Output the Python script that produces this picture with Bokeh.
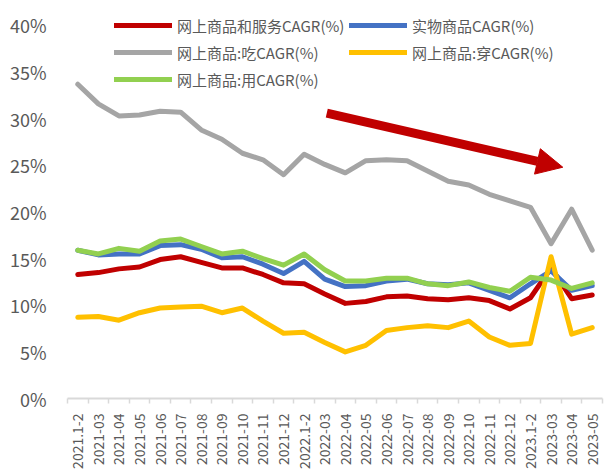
from math import pi
from bokeh.plotting import figure
from bokeh.models import (Range1d, FixedTicker, PrintfTickFormatter, Legend,
                          LegendItem, Arrow, NormalHead)
from bokeh.embed import file_html
from bokeh.resources import INLINE

categories = ["2021.1-2", "2021-03", "2021-04", "2021-05", "2021-06", "2021-07",
              "2021-08", "2021-09", "2021-10", "2021-11", "2021-12",
              "2022.1-2", "2022-03", "2022-04", "2022-05", "2022-06", "2022-07",
              "2022-08", "2022-09", "2022-10", "2022-11", "2022-12",
              "2023.1-2", "2023-03", "2023-04", "2023-05"]

online_goods_services = [13.3, 13.5, 13.9, 14.1, 14.9, 15.2, 14.6, 14.0, 14.0, 13.3,
                         12.4, 12.3, 11.2, 10.2, 10.4, 10.9, 11.0, 10.7, 10.6, 10.8,
                         10.5, 9.6, 10.8, 14.0, 10.7, 11.1]
physical_goods = [15.9, 15.4, 15.5, 15.5, 16.4, 16.5, 16.0, 15.1, 15.2, 14.4,
                  13.4, 14.7, 12.8, 12.0, 12.1, 12.6, 12.8, 12.3, 12.2, 12.4,
                  11.6, 10.8, 12.3, 13.7, 11.6, 12.1]
food = [33.7, 31.6, 30.3, 30.4, 30.8, 30.7, 28.8, 27.8, 26.3, 25.6,
        24.0, 26.2, 25.1, 24.2, 25.5, 25.6, 25.5, 24.4, 23.3, 22.9,
        21.9, 21.2, 20.5, 16.6, 20.3, 15.9]
clothing = [8.7, 8.8, 8.4, 9.2, 9.7, 9.8, 9.9, 9.2, 9.7, 8.3,
            7.0, 7.1, 6.0, 5.0, 5.7, 7.3, 7.6, 7.8, 7.6, 8.3,
            6.6, 5.7, 5.9, 15.2, 6.9, 7.6]
daily_use = [15.9, 15.5, 16.1, 15.8, 16.9, 17.1, 16.3, 15.5, 15.8, 15.0,
             14.3, 15.5, 13.8, 12.6, 12.6, 12.9, 12.9, 12.3, 12.1, 12.5,
             11.9, 11.5, 13.0, 12.7, 11.8, 12.4]

series_names = ["网上商品和服务CAGR(%)", "实物商品CAGR(%)", "网上商品:吃CAGR(%)",
                "网上商品:穿CAGR(%)", "网上商品:用CAGR(%)"]
series_colors = ["#C00000", "#4472C4", "#A5A5A5", "#FFC000", "#92D050"]
y_ticks = [0, 5, 10, 15, 20, 25, 30, 35, 40]

FONT = "Noto Sans CJK SC"
TXT = "#595959"

n = len(categories)
x = list(range(n))

p = figure(width=614, height=471, output_backend="svg",
           toolbar_location=None,
           x_range=Range1d(-0.5, n - 0.5), y_range=Range1d(0, 41.5),
           min_border_left=67, min_border_right=12, min_border_top=11,
           min_border_bottom=72)
p.outline_line_color = None
p.grid.visible = False
p.background_fill_color = "white"
p.border_fill_color = "white"

# x axis
xa = p.xaxis[0]
xa.ticker = FixedTicker(ticks=x, minor_ticks=[i - 0.5 for i in range(n + 1)])
xa.major_label_overrides = {i: c for i, c in enumerate(categories)}
xa.major_label_orientation = pi / 2
xa.major_tick_out = 0
xa.major_tick_in = 0
xa.minor_tick_out = 5
xa.minor_tick_in = 0
xa.minor_tick_line_color = "#D9D9D9"
xa.minor_tick_line_width = 1.5
xa.axis_line_color = "#D9D9D9"
xa.axis_line_width = 2
xa.major_label_standoff = 10
xa.major_label_text_font = FONT
xa.major_label_text_font_size = "14px"
xa.major_label_text_color = TXT

# y axis
ya = p.yaxis[0]
ya.ticker = FixedTicker(ticks=y_ticks)
ya.formatter = PrintfTickFormatter(format="%d%%")
ya.axis_line_color = None
ya.major_tick_line_color = None
ya.minor_tick_line_color = None
ya.major_label_standoff = 15
ya.major_label_text_font = FONT
ya.major_label_text_font_size = "18px"
ya.major_label_text_color = TXT

data = [online_goods_services, physical_goods, food, clothing, daily_use]
renderers = []
for vals, col in zip(data, series_colors):
    r = p.line(x, vals, line_color=col, line_width=5, line_join="round",
               line_cap="round")
    renderers.append(r)

# trend arrow
p.add_layout(Arrow(end=NormalHead(size=26, fill_color="#C00000",
                                  line_color="#C00000", line_width=1),
                   x_start=12.1, y_start=30.6, x_end=23.57, y_end=24.8,
                   line_color="#C00000", line_width=9))

def make_legend(idx, loc):
    lg = Legend(items=[LegendItem(label=series_names[i], renderers=[renderers[i]])
                       for i in idx],
                location=loc, orientation="vertical")
    lg.background_fill_alpha = 0
    lg.border_line_color = None
    lg.padding = 0
    lg.margin = 0
    lg.glyph_width = 58
    lg.glyph_height = 22
    lg.label_height = 22
    lg.label_standoff = 5
    lg.spacing = 5
    lg.label_text_font = FONT
    lg.label_text_font_size = "15px"
    lg.label_text_color = TXT
    return lg

p.add_layout(make_legend([0, 2, 4], (47, 308)))
p.add_layout(make_legend([1, 3], (282, 335)))

open("out.html", "w").write(file_html(p, INLINE))
